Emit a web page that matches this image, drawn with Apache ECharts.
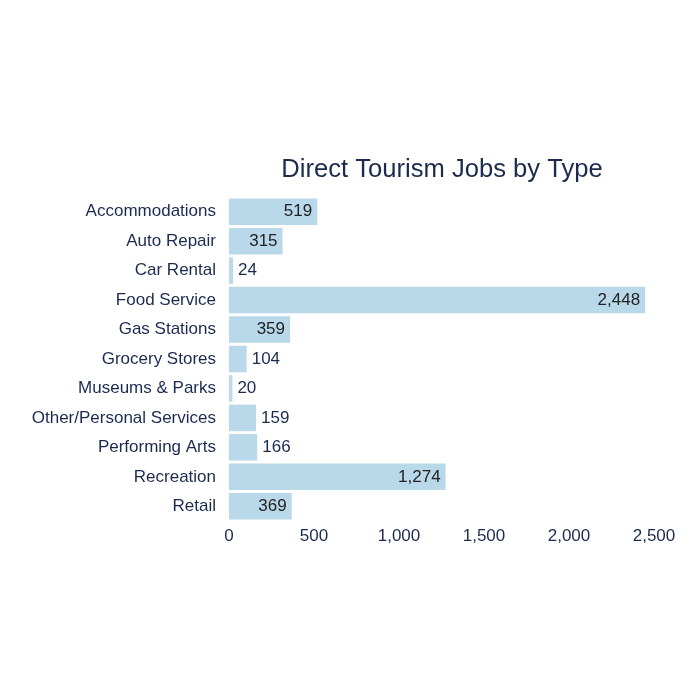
<!DOCTYPE html>
<html>
<head>
<meta charset="utf-8">
<script src="https://cdn.jsdelivr.net/npm/echarts@6/dist/echarts.min.js"></script>
<style>
  html, body { margin: 0; padding: 0; background: #fff; }
  #chart { width: 700px; height: 700px; }
</style>
</head>
<body>
<div id="chart"></div>
<script>
const categories = [
    "Accommodations", "Auto Repair", "Car Rental", "Food Service", "Gas Stations",
    "Grocery Stores", "Museums & Parks", "Other/Personal Services", "Performing Arts",
    "Recreation", "Retail"
];
const jobs = [519, 315, 24, 2448, 359, 104, 20, 159, 166, 1274, 369];

const navy = '#1b2a4e';
const fmt = v => v.toLocaleString('en-US');

var chart = echarts.init(document.getElementById('chart'), null, { renderer: 'canvas' });

// short bars get their label outside the bar
const barData = jobs.map(v => ({
    value: v,
    label: v > 300
        ? { position: 'insideRight', color: '#222' }
        : { position: 'right', color: navy }
}));

var option = {
    animation: false,
    textStyle: { fontFamily: 'Liberation Sans' },
    title: {
        text: 'Direct Tourism Jobs by Type',
        left: 437,
        textAlign: 'center',
        top: 152,
        textStyle: { fontSize: 25.6, fontWeight: 'normal', color: navy, fontFamily: 'Liberation Sans' }
    },
    grid: { left: 229, right: 46, top: 197, bottom: 179 },
    xAxis: {
        type: 'value',
        min: 0,
        max: 2500,
        interval: 500,
        axisLine: { show: false },
        axisTick: { show: false },
        splitLine: { show: false },
        axisLabel: {
            color: navy, fontSize: 17, margin: 7,
            formatter: v => fmt(v)
        }
    },
    yAxis: {
        type: 'category',
        data: categories,
        inverse: true,
        axisLine: { show: false },
        axisTick: { show: false },
        axisLabel: { color: navy, fontSize: 17, margin: 13 }
    },
    series: [{
        type: 'bar',
        data: barData,
        barCategoryGap: '10%',
        itemStyle: { color: '#b9d8ea' },
        label: {
            show: true,
            fontSize: 17,
            distance: 5,
            formatter: p => fmt(p.value)
        }
    }]
};

chart.setOption(option);
</script>
</body>
</html>
